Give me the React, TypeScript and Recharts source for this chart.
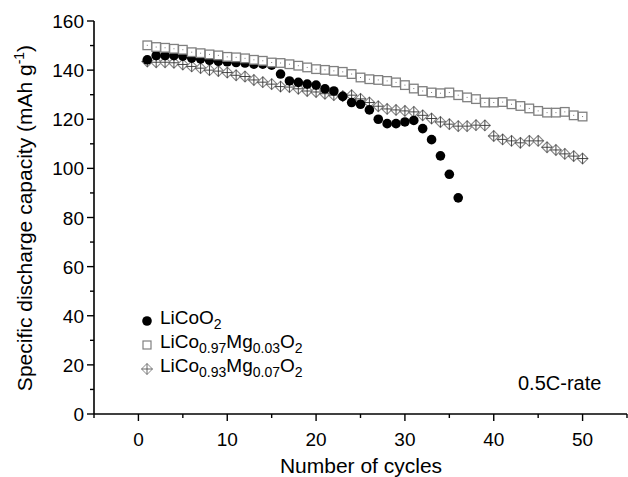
import React from "react";
import { ScatterChart, Scatter, XAxis, YAxis } from "recharts";

const FONT = '"Liberation Sans", Arial, Helvetica, sans-serif';

// cycle numbers
const cyclesLiCoO2 = [
  1, 2, 3, 4, 5, 6, 7, 8, 9, 10, 11, 12, 13, 14, 15, 16, 17, 18, 19, 20, 21, 22, 23, 24, 25, 26, 27, 28, 29, 30,
  31, 32, 33, 34, 35, 36,
];
const cyclesMg = [
  1, 2, 3, 4, 5, 6, 7, 8, 9, 10, 11, 12, 13, 14, 15, 16, 17, 18, 19, 20, 21, 22, 23, 24, 25, 26, 27, 28, 29, 30,
  31, 32, 33, 34, 35, 36, 37, 38, 39, 40, 41, 42, 43, 44, 45, 46, 47, 48, 49, 50,
];

// capacity, mAh/g
const capLiCoO2 = [
  144.2, 145.9, 145.9, 145.9, 145.7, 144.9, 144.6, 144, 143.6, 143.4, 143.1, 142.9, 142.4, 142.4, 142, 138.4,
  135.6, 135, 134.3, 133.9, 132.4, 131.5, 129.3, 126.8, 126.1, 123.8, 120, 118.2, 118.2, 118.9, 119.5, 116.2,
  111.7, 105.1, 97.6, 88,
];
const capMg003 = [
  150.1, 149.4, 149.1, 148.7, 148.3, 147.3, 146.9, 146.4, 146, 145.4, 145.2, 144.8, 144.2, 143.8, 143.1, 142.9,
  142.4, 141.8, 141.1, 140.4, 140.1, 139.7, 139.3, 138.4, 137, 136.3, 136, 135.6, 135, 133.9, 132.5, 131.5,
  130.9, 130.6, 130.9, 129.8, 128.9, 128.2, 126.8, 126.8, 127, 126.1, 125.4, 124.4, 123.4, 122.7, 122.7, 123,
  121.6, 121.1,
];
const capMg007 = [
  143.5, 143.2, 143.2, 143, 142.3, 141.5, 140.8, 140, 139.6, 139, 137.9, 137.4, 136, 135.1, 134.3, 133.3, 133.1,
  132.4, 131.5, 131.1, 130.4, 129.8, 129.4, 129.8, 128.3, 126.8, 125.3, 124.2, 123.8, 123.4, 123, 121.6, 120.3,
  118.9, 118, 117.2, 117.2, 117.6, 117.5, 113.2, 111.8, 111.2, 110.4, 111.2, 111.2, 108.6, 107.5, 105.9, 105,
  104,
];

const xTicks = [-5, 0, 5, 10, 15, 20, 25, 30, 35, 40, 45, 50, 55];
const yTicks = [0, 10, 20, 30, 40, 50, 60, 70, 80, 90, 100, 110, 120, 130, 140, 150, 160];

const toPoints = (xs: number[], ys: number[]) => xs.map((x, i) => ({ x, y: ys[i] }));

const dataLiCoO2 = toPoints(cyclesLiCoO2, capLiCoO2);
const dataMg003 = toPoints(cyclesMg, capMg003);
const dataMg007 = toPoints(cyclesMg, capMg007);

const Dot = (p: any) => <circle cx={p.cx} cy={p.cy} r={4.8} fill="#000" />;

const Box = (p: any) => (
  <g>
    <rect x={p.cx - 4.3} y={p.cy - 4.3} width={8.6} height={8.6} fill="#fff" stroke="#808080" strokeWidth={1.3} />
    <rect x={p.cx - 0.5} y={p.cy - 0.5} width={1} height={1} fill="#777" />
  </g>
);

const CrossDiamond = (p: any) => {
  const { cx, cy } = p;
  const r = 5.4;
  return (
    <g>
      <path
        d={`M${cx},${cy - r}L${cx + r},${cy}L${cx},${cy + r}L${cx - r},${cy}Z`}
        fill="#fff"
        stroke="#888"
        strokeWidth={1.1}
      />
      <path d={`M${cx - r},${cy}H${cx + r}M${cx},${cy - r}V${cy + r}`} stroke="#333" strokeWidth={0.9} />
    </g>
  );
};

// ticks drawn by hand so minor ones get shorter marks
const BottomTick = (p: any) => {
  const v = p.payload.value;
  const major = v % 10 === 0;
  return (
    <g>
      <line x1={p.x} x2={p.x} y1={p.y} y2={p.y + (major ? 7 : 4)} stroke="#000" strokeWidth={1.4} />
      {major && v >= 0 && v <= 50 ? (
        <text x={p.x} y={p.y + 32} textAnchor="middle" fontSize={19} fontFamily={FONT} fill="#000">
          {v}
        </text>
      ) : null}
    </g>
  );
};

const TopTick = (p: any) => {
  const major = p.payload.value % 10 === 0;
  return <line x1={p.x} x2={p.x} y1={p.y} y2={p.y + (major ? 7 : 4)} stroke="#000" strokeWidth={1.4} />;
};

const LeftTick = (p: any) => {
  const v = p.payload.value;
  const major = v % 20 === 0;
  return (
    <g>
      <line x1={p.x - (major ? 7 : 4)} x2={p.x} y1={p.y} y2={p.y} stroke="#000" strokeWidth={1.4} />
      {major ? (
        <text x={p.x - 10} y={p.y + 7} textAnchor="end" fontSize={19} fontFamily={FONT} fill="#000">
          {v}
        </text>
      ) : null}
    </g>
  );
};

const RightTick = (p: any) => {
  const major = p.payload.value % 20 === 0;
  return <line x1={p.x - (major ? 7 : 4)} x2={p.x} y1={p.y} y2={p.y} stroke="#000" strokeWidth={1.4} />;
};

const YLabel = () => (
  <text transform="translate(32,218) rotate(-90)" textAnchor="middle" fontSize={21} fontFamily={FONT} fill="#000">
    Specific discharge capacity (mAh g
    <tspan dy={-8} fontSize={14}>
      -1
    </tspan>
    <tspan dy={8}>)</tspan>
  </text>
);

const XLabel = () => (
  <text x={361} y={473} textAnchor="middle" fontSize={21} fontFamily={FONT} fill="#000">
    Number of cycles
  </text>
);

const sub = { fontSize: 14, verticalAlign: "-5px" } as React.CSSProperties;

const legendRows = [
  {
    key: "a",
    icon: <circle cx={8} cy={8} r={4.8} fill="#000" />,
    label: (
      <>
        LiCoO<span style={sub}>2</span>
      </>
    ),
  },
  {
    key: "b",
    icon: <rect x={4} y={4} width={8} height={8} fill="#fff" stroke="#808080" strokeWidth={1.2} />,
    label: (
      <>
        LiCo<span style={sub}>0.97</span>Mg<span style={sub}>0.03</span>O<span style={sub}>2</span>
      </>
    ),
  },
  {
    key: "c",
    icon: (
      <g>
        <path d="M8,2.5L13.5,8L8,13.5L2.5,8Z" fill="#fff" stroke="#888" strokeWidth={1} />
        <path d="M2.5,8H13.5M8,2.5V13.5" stroke="#555" strokeWidth={0.9} />
      </g>
    ),
    label: (
      <>
        LiCo<span style={sub}>0.93</span>Mg<span style={sub}>0.07</span>O<span style={sub}>2</span>
      </>
    ),
  },
];

const LegendBox = () => (
  <div
    style={{
      position: "absolute",
      left: 139,
      top: 309,
      fontFamily: FONT,
      fontSize: 19,
      color: "#000",
      pointerEvents: "none",
    }}
  >
    {legendRows.map((r) => (
      <div key={r.key} style={{ display: "flex", alignItems: "center", height: 24 }}>
        <svg width={16} height={16} style={{ marginRight: 5 }}>
          {r.icon}
        </svg>
        <span style={{ lineHeight: "24px", whiteSpace: "nowrap" }}>{r.label}</span>
      </div>
    ))}
  </div>
);

export default function App() {
  return (
    <div style={{ position: "absolute", left: 0, top: 0, width: 628, height: 477, background: "#fff" }}>
      <ScatterChart width={628} height={477} margin={{ top: 21, right: 1, bottom: 0, left: 0 }}>
        <XAxis
          xAxisId="b"
          type="number"
          dataKey="x"
          domain={[-5, 55]}
          ticks={xTicks}
          interval={0}
          height={63}
          tickSize={0}
          tickMargin={0}
          tick={<BottomTick />}
          axisLine={{ stroke: "#000", strokeWidth: 1.6 }}
          tickLine={false}
        />
        <XAxis
          xAxisId="t"
          orientation="top"
          type="number"
          dataKey="x"
          domain={[-5, 55]}
          ticks={xTicks}
          interval={0}
          height={0}
          tickSize={0}
          tickMargin={0}
          tick={<TopTick />}
          axisLine={{ stroke: "#000", strokeWidth: 1.6 }}
          tickLine={false}
        />
        <YAxis
          yAxisId="l"
          type="number"
          dataKey="y"
          domain={[0, 160]}
          ticks={yTicks}
          interval={0}
          width={94}
          tickSize={0}
          tickMargin={0}
          tick={<LeftTick />}
          axisLine={{ stroke: "#000", strokeWidth: 1.6 }}
          tickLine={false}
        />
        <YAxis
          yAxisId="r"
          orientation="right"
          type="number"
          dataKey="y"
          domain={[0, 160]}
          ticks={yTicks}
          interval={0}
          width={0}
          tickSize={0}
          tickMargin={0}
          tick={<RightTick />}
          axisLine={{ stroke: "#000", strokeWidth: 1.6 }}
          tickLine={false}
        />
        <Scatter
          name="LiCo0.93Mg0.07O2"
          data={dataMg007}
          xAxisId="b"
          yAxisId="l"
          shape={CrossDiamond}
          isAnimationActive={false}
        />
        <Scatter name="LiCoO2" data={dataLiCoO2} xAxisId="b" yAxisId="l" shape={Dot} isAnimationActive={false} />
        <Scatter
          name="LiCo0.97Mg0.03O2"
          data={dataMg003}
          xAxisId="b"
          yAxisId="l"
          shape={Box}
          isAnimationActive={false}
        />
        <YLabel />
        <XLabel />
      </ScatterChart>
      <LegendBox />
      <div
        style={{ position: "absolute", left: 518, top: 372, fontFamily: FONT, fontSize: 20, color: "#000" }}
      >
        0.5C-rate
      </div>
    </div>
  );
}
